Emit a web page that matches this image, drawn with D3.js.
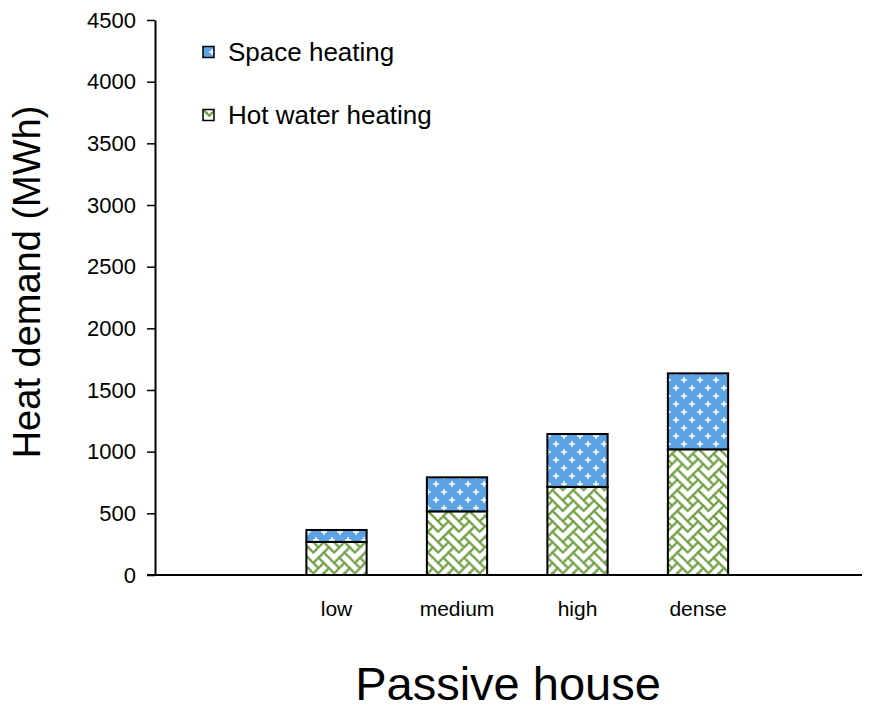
<!DOCTYPE html>
<html>
<head>
<meta charset="utf-8">
<script src="https://cdn.jsdelivr.net/npm/d3@7"></script>
<style>
  html, body { margin: 0; padding: 0; background: #fff; }
  svg { display: block; font-family: "Liberation Sans", Arial, sans-serif; }
</style>
</head>
<body>
<svg id="chart" width="874" height="714"></svg>
<script>
// Heat demand by settlement density, passive house standard (MWh)
const categories = ["low", "medium", "high", "dense"];
const hotWater   = [268, 516, 714, 1019];
const space      = [97, 276, 429, 616];
const yTicks     = [0, 500, 1000, 1500, 2000, 2500, 3000, 3500, 4000, 4500];
const seriesNames = ["Space heating", "Hot water heating"];

const svg = d3.select("#chart");
svg.append("rect").attr("width", 874).attr("height", 714).attr("fill", "#fff");

const defs = svg.append("defs");

// Blue fill: dotted grid with white sparkles
const pBlue = defs.append("pattern")
  .attr("id", "pat-space").attr("patternUnits", "userSpaceOnUse")
  .attr("width", 16).attr("height", 16);
pBlue.append("rect").attr("width", 16).attr("height", 16).attr("fill", "#3d92dc");
for (let i = 0; i < 16; i += 2) {
  for (let j = 0; j < 16; j += 2) {
    pBlue.append("rect").attr("x", i + 0.5).attr("y", j + 0.5)
      .attr("width", 1).attr("height", 1).attr("fill", "#cfe6fa").attr("opacity", 0.8);
  }
}
[[4, 4], [12, 12]].forEach(([cx, cy]) => {
  pBlue.append("rect").attr("x", cx - 3).attr("y", cy - 0.75).attr("width", 6).attr("height", 1.5).attr("fill", "#fff");
  pBlue.append("rect").attr("x", cx - 0.75).attr("y", cy - 3).attr("width", 1.5).attr("height", 6).attr("fill", "#fff");
});

// Green fill: weave hatch on white, drawn as joined diagonal strokes
const weave = [0x88, 0x54, 0x22, 0x45, 0x88, 0x14, 0x22, 0x51];
const cell = 2.6, tile = cell * 8;
const isSet = (r, c) => (weave[((r % 8) + 8) % 8] & (0x80 >> (((c % 8) + 8) % 8))) !== 0;
const pGreen = defs.append("pattern")
  .attr("id", "pat-water").attr("patternUnits", "userSpaceOnUse")
  .attr("width", tile).attr("height", tile);
pGreen.append("rect").attr("width", tile).attr("height", tile).attr("fill", "#fff");
const segs = [];
for (let r = -1; r < 9; r++) {
  for (let c = -1; c < 9; c++) {
    if (!isSet(r, c)) continue;
    if (isSet(r + 1, c + 1)) segs.push([c, r, c + 1, r + 1]);
    if (isSet(r + 1, c - 1)) segs.push([c, r, c - 1, r + 1]);
  }
}
pGreen.selectAll("line").data(segs).enter().append("line")
  .attr("x1", d => (d[0] + 0.5) * cell).attr("y1", d => (d[1] + 0.5) * cell)
  .attr("x2", d => (d[2] + 0.5) * cell).attr("y2", d => (d[3] + 0.5) * cell)
  .attr("stroke", "#6f9e42").attr("stroke-width", 2.1).attr("stroke-linecap", "square");

const fills = { "Space heating": "url(#pat-space)", "Hot water heating": "url(#pat-water)" };

// Scales
const y = d3.scaleLinear().domain([0, 4500]).range([575, 20]);
const x = d3.scaleBand().domain(categories).range([276.25, 758.25])
  .paddingInner(0.5).paddingOuter(0.25);

// Stacked data
const rows = categories.map((c, i) => ({ cat: c, "Hot water heating": hotWater[i], "Space heating": space[i] }));
const stack = d3.stack().keys(["Hot water heating", "Space heating"]);
const layers = stack(rows);

const gBars = svg.append("g");
layers.forEach(layer => {
  gBars.selectAll(null).data(layer).enter().append("rect")
    .attr("x", d => x(d.data.cat))
    .attr("y", d => y(d[1]))
    .attr("width", x.bandwidth())
    .attr("height", d => y(d[0]) - y(d[1]))
    .attr("fill", fills[layer.key])
    .attr("stroke", "#000").attr("stroke-width", 2);
});

// Y axis
const yAxis = d3.axisLeft(y).tickValues(yTicks).tickFormat(d3.format("d"))
  .tickSize(8).tickSizeOuter(0).tickPadding(11);
const gy = svg.append("g").attr("transform", "translate(155,0)").call(yAxis);
gy.select(".domain").attr("stroke", "#000").attr("stroke-width", 2);
gy.selectAll(".tick line").attr("stroke", "#000").attr("stroke-width", 1.5);
gy.selectAll(".tick text").attr("font-size", 22).attr("fill", "#000")
  .attr("font-family", "Liberation Sans, Arial, sans-serif");

// X axis
const xAxis = d3.axisBottom(x).tickSize(0).tickPadding(26);
const gx = svg.append("g").attr("transform", "translate(0,575)").call(xAxis);
gx.select(".domain").remove();
gx.selectAll(".tick text").attr("font-size", 21).attr("fill", "#000")
  .attr("font-family", "Liberation Sans, Arial, sans-serif");
svg.append("line").attr("x1", 147).attr("x2", 862).attr("y1", 575).attr("y2", 575)
  .attr("stroke", "#000").attr("stroke-width", 2);

// Axis titles
svg.append("text").attr("transform", "translate(40,282) rotate(-90)")
  .attr("text-anchor", "middle").attr("font-size", 38).attr("fill", "#000")
  .text("Heat demand (MWh)");
svg.append("text").attr("x", 508).attr("y", 700)
  .attr("text-anchor", "middle").attr("font-size", 47).attr("fill", "#000")
  .text("Passive house");

// Legend
const legend = svg.append("g");
seriesNames.forEach((name, i) => {
  const ly = 52 + i * 63;
  legend.append("rect").attr("x", 203).attr("y", ly - 5.5).attr("width", 11).attr("height", 11)
    .attr("fill", fills[name]).attr("stroke", "#000").attr("stroke-width", 1.5);
  legend.append("text").attr("x", 228).attr("y", ly + 9)
    .attr("font-size", 26).attr("fill", "#000").text(name);
});
</script>
</body>
</html>
